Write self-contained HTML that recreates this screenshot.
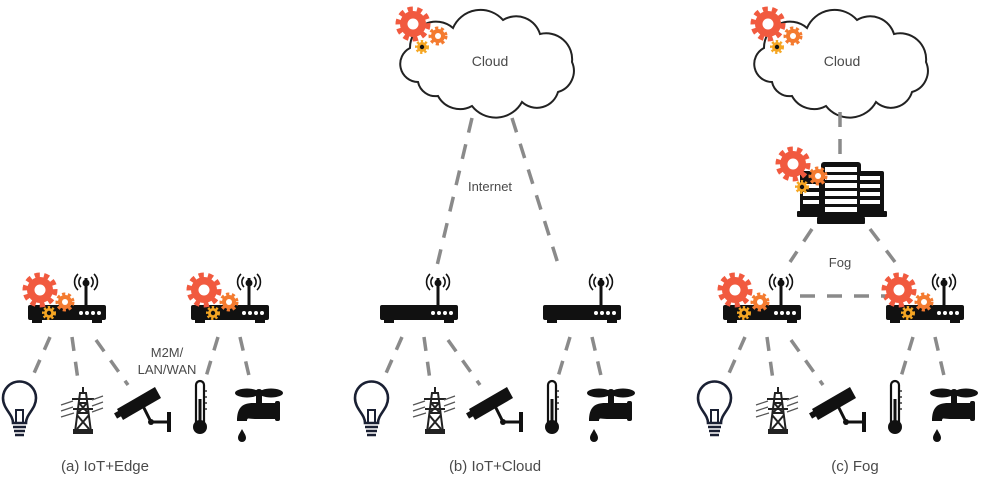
<!DOCTYPE html>
<html><head><meta charset="utf-8"><style>
html,body{margin:0;padding:0;background:#fff}
svg{display:block}
text{font-family:"Liberation Sans",sans-serif;fill:#4a4a4a}
</style></head><body>
<svg width="984" height="482" viewBox="0 0 984 482" xmlns="http://www.w3.org/2000/svg">
<defs>
  <g id="bigGear">
    <circle r="14" fill="none" stroke="#f15a3f" stroke-width="7" stroke-dasharray="4.8 3.9"/>
    <circle r="13" fill="#f15a3f"/>
    <circle r="5.5" fill="#fff"/>
  </g>
  <g id="midGear">
    <circle r="7.5" fill="none" stroke="#f47b30" stroke-width="4" stroke-dasharray="3 2.4"/>
    <circle r="7" fill="#f47b30"/>
    <circle r="3" fill="#fff"/>
  </g>
  <g id="smGear">
    <circle r="5.5" fill="none" stroke="#f5a623" stroke-width="3" stroke-dasharray="2.2 1.9"/>
    <circle r="5" fill="#f5a623"/>
    <circle r="2.2" fill="#111"/>
  </g>
  <g id="gears">
    <use href="#bigGear" x="0" y="0"/>
    <use href="#midGear" x="25" y="12"/>
    <use href="#smGear" x="9" y="23"/>
  </g>
  <g id="router">
    <rect x="0" y="0" width="78" height="15" rx="2" fill="#111"/>
    <rect x="4" y="14" width="10" height="4" fill="#111"/>
    <rect x="64" y="14" width="10" height="4" fill="#111"/>
    <rect x="56.5" y="-27" width="3" height="28" fill="#111"/>
    <circle cx="58" cy="-22" r="3.5" fill="#111"/>
    <path d="M53,-28 a7,7 0 0 0 0,10 M63,-28 a7,7 0 0 1 0,10 M50,-31 a11,11 0 0 0 0,16 M66,-31 a11,11 0 0 1 0,16" fill="none" stroke="#111" stroke-width="1.6"/>
    <circle cx="53" cy="8" r="2" fill="#fff"/><circle cx="59" cy="8" r="2" fill="#fff"/><circle cx="65" cy="8" r="2" fill="#fff"/><circle cx="71" cy="8" r="2" fill="#fff"/>
  </g>
  <g id="bulb" fill="none" stroke="#1a2033" stroke-width="2.6">
    <path d="M11,42 C11,33 1,28 1,17 A16.5,16.5 0 0 1 34,17 C34,28 24,33 24,42 Z"/>
    <path d="M14,42 L14,29 L21,29 L21,42" stroke-width="2"/>
    <path d="M11,46 H24 M12,50 H23 M13,54 H22"/>
  </g>
  <g id="tower" stroke="#222" fill="none" stroke-width="2">
    <path d="M14,47 L19,8 L25,8 L30,47 M16,28 L28,28 M17,18 L27,18 M16,30 L28,44 M28,30 L16,44 M18,18 L27,28 M26,18 L17,28 M11,14 H33 M12,24 H32"/>
    <path d="M22,2 V8" />
    <path d="M0,20 L12,16 M0,26 L12,22 M0,32 L13,28 M31,15 L42,11 M31,21 L42,17 M31,27 L42,23" stroke-width="1.2" stroke="#555"/>
    <rect x="13" y="45" width="18" height="3" fill="#222"/>
  </g>
  <g id="camera">
    <path d="M2,25 L40,3 L46,14 L8,36 Z" fill="#111"/>
    <rect x="0" y="27" width="8" height="6" fill="#111" transform="rotate(-30 4 30)"/>
    <path d="M28,22 L36,38 L52,38" stroke="#111" stroke-width="3" fill="none"/>
    <circle cx="36" cy="38" r="3" fill="#111"/>
    <rect x="52" y="28" width="4" height="20" fill="#111"/>
  </g>
  <g id="thermo">
    <path d="M4,42 V4 A4,4 0 0 1 12,4 V42" fill="none" stroke="#111" stroke-width="2.2"/>
    <circle cx="8" cy="46" r="7" fill="#111"/>
    <rect x="6.5" y="18" width="3" height="28" fill="#111"/>
    <path d="M12,10 h3 M12,16 h3 M12,22 h3 M12,28 h3" stroke="#111" stroke-width="1.2"/>
  </g>
  <g id="faucet" fill="#111">
    <ellipse cx="14" cy="6" rx="12" ry="4.5"/>
    <ellipse cx="38" cy="6" rx="12" ry="4.5"/>
    <circle cx="26" cy="6" r="4"/>
    <rect x="23" y="8" width="6" height="8"/>
    <path d="M4,34 C4,20 10,16 20,16 H42 V32 H22 C16,32 14,30 14,34 Z"/>
    <rect x="42" y="14" width="5" height="20" rx="2"/>
    <path d="M9,42 C11,46 13,48 13,51 A4,4 0 0 1 5,51 C5,48 7,46 9,42 Z"/>
  </g>
  <g id="bottom">
    <use href="#router" x="380" y="305"/>
    <use href="#router" x="543" y="305"/>
    <g stroke="#8a8a8a" stroke-width="3.5" fill="none" stroke-dasharray="14 11">
      <line x1="402" y1="337" x2="383" y2="380"/>
      <line x1="424" y1="337" x2="430" y2="380"/>
      <line x1="448" y1="340" x2="480" y2="385"/>
      <line x1="570" y1="337" x2="557" y2="380"/>
      <line x1="592" y1="337" x2="602" y2="380"/>
    </g>
    <use href="#bulb" x="354" y="381"/>
    <use href="#tower" x="413" y="385"/>
    <use href="#camera" x="467" y="384"/>
    <use href="#thermo" x="544" y="381"/>
    <use href="#faucet" x="585" y="387"/>
  </g>
  <path id="cloud" d="M20,72 A18,18 0 0 1 12,38 A26,26 0 0 1 55,18 A30,30 0 0 1 105,10 A25,25 0 0 1 142,24 A26,26 0 0 1 174,52 A22,22 0 0 1 160,82 A22,22 0 0 1 124,92 A30,30 0 0 1 74,96 A25,25 0 0 1 40,86 A18,18 0 0 1 20,72 Z" fill="#fff" stroke="#222" stroke-width="2"/>
</defs>

<!-- Panel a -->
<g transform="translate(-352,0)"><use href="#bottom"/></g>
<use href="#gears" x="40" y="290"/>
<use href="#gears" x="204" y="290"/>
<text x="167" y="357" font-size="13" text-anchor="middle">M2M/</text>
<text x="167" y="374" font-size="13" text-anchor="middle">LAN/WAN</text>
<text x="105" y="471" font-size="15" text-anchor="middle">(a) IoT+Edge</text>

<!-- Panel b -->
<use href="#bottom"/>
<use href="#cloud" x="398" y="10"/>
<use href="#gears" x="413" y="24"/>
<text x="490" y="66" font-size="14" text-anchor="middle">Cloud</text>
<g stroke="#8a8a8a" stroke-width="3.5" stroke-dasharray="15 12">
  <line x1="472" y1="118" x2="436" y2="270"/>
  <line x1="512" y1="118" x2="560" y2="270"/>
</g>
<text x="490" y="191" font-size="13" text-anchor="middle">Internet</text>
<text x="495" y="471" font-size="15" text-anchor="middle">(b) IoT+Cloud</text>

<!-- Panel c -->
<g transform="translate(343,0)"><use href="#bottom"/></g>
<use href="#gears" x="735" y="290"/>
<use href="#gears" x="899" y="290"/>
<use href="#cloud" x="752" y="10"/>
<use href="#gears" x="768" y="24"/>
<text x="842" y="66" font-size="14" text-anchor="middle">Cloud</text>
<g stroke="#8a8a8a" stroke-width="3.5" stroke-dasharray="15 12">
  <line x1="840" y1="112" x2="840" y2="160"/>
  <line x1="812" y1="229" x2="790" y2="262"/>
  <line x1="870" y1="229" x2="895" y2="262"/>
  <line x1="800" y1="296" x2="885" y2="296"/>
</g>
<g>
  <rect x="800" y="171" width="28" height="44" rx="2" fill="#111"/>
  <rect x="856" y="171" width="28" height="44" rx="2" fill="#111"/>
  <rect x="797" y="211" width="90" height="6" rx="1" fill="#111"/>
  <rect x="821" y="162" width="40" height="56" rx="3" fill="#111"/>
  <rect x="817" y="217" width="48" height="7" rx="1" fill="#111"/>
  <g fill="#fff">
    <rect x="825" y="167" width="32" height="5"/><rect x="825" y="175" width="32" height="5"/><rect x="825" y="183" width="32" height="5"/>
    <rect x="825" y="191" width="32" height="5"/><rect x="825" y="199" width="32" height="5"/><rect x="825" y="207" width="32" height="5"/>
    <rect x="860" y="176" width="20" height="4"/><rect x="860" y="184" width="20" height="4"/><rect x="860" y="192" width="20" height="4"/><rect x="860" y="200" width="20" height="4"/>
    <rect x="803" y="184" width="16" height="4"/><rect x="803" y="192" width="16" height="4"/><rect x="803" y="200" width="16" height="4"/>
  </g>
</g>
<use href="#gears" x="793" y="164"/>
<text x="840" y="267" font-size="13" text-anchor="middle">Fog</text>
<text x="855" y="471" font-size="15" text-anchor="middle">(c) Fog</text>
</svg>
</body></html>
